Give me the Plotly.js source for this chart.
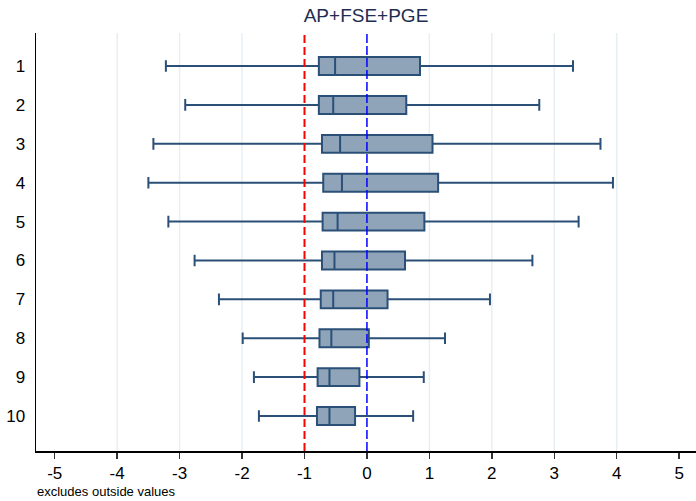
<!DOCTYPE html>
<html>
<head>
<meta charset="utf-8">
<script src="https://cdn.plot.ly/plotly-3.0.1.min.js"></script>
<style>html,body{margin:0;padding:0;background:#fff;}#chart{width:696px;height:501px;}</style>
</head>
<body>
<div id="chart"></div>
<script>
var categories = [1, 2, 3, 4, 5, 6, 7, 8, 9, 10];
var lowerWhisker = [-3.22, -2.91, -3.42, -3.50, -3.18, -2.76, -2.37, -1.99, -1.81, -1.73];
var q1Values     = [-0.77, -0.77, -0.72, -0.70, -0.71, -0.72, -0.74, -0.76, -0.79, -0.80];
var medianValues = [-0.51, -0.54, -0.43, -0.40, -0.47, -0.52, -0.54, -0.57, -0.60, -0.60];
var q3Values     = [0.85, 0.63, 1.05, 1.14, 0.92, 0.61, 0.33, 0.03, -0.12, -0.19];
var upperWhisker = [3.30, 2.76, 3.74, 3.94, 3.39, 2.65, 1.97, 1.25, 0.91, 0.74];
var xTicks = [-5, -4, -3, -2, -1, 0, 1, 2, 3, 4, 5];
var gridVals = [-4, -3, -2, 1, 2, 3, 4];
var redRef = -1;
var blueRef = 0;
var titleText = 'AP+FSE+PGE';
var noteText = 'excludes outside values';

var trace = {
  type: 'box',
  orientation: 'h',
  y: categories,
  q1: q1Values,
  median: medianValues,
  q3: q3Values,
  lowerfence: lowerWhisker,
  upperfence: upperWhisker,
  boxpoints: false,
  width: 0.46,
  whiskerwidth: 0.65,
  fillcolor: '#8fa4b9',
  line: {color: '#2b5077', width: 2},
  hoverinfo: 'skip',
  showlegend: false
};

var shapes = [];
gridVals.forEach(function (v) {
  shapes.push({type: 'line', xref: 'x', yref: 'paper', x0: v, x1: v, y0: 0, y1: 1,
    line: {color: '#e8eff3', width: 1.5}, layer: 'below'});
});
shapes.push({type: 'line', xref: 'x', yref: 'paper', x0: redRef, x1: redRef, y0: 0, y1: 1,
  line: {color: '#ff0000', width: 2, dash: '8px,4px'}, layer: 'above'});
shapes.push({type: 'line', xref: 'x', yref: 'paper', x0: blueRef, x1: blueRef, y0: 0, y1: 1,
  line: {color: '#0000ff', width: 1.5, dash: '9px,3px'}, layer: 'above'});

var layout = {
  width: 696, height: 501,
  margin: {l: 36, r: 0, t: 33, b: 50},
  paper_bgcolor: '#ffffff', plot_bgcolor: '#ffffff',
  font: {family: 'Liberation Sans, Arial, sans-serif', color: '#000'},
  title: {text: titleText, x: 0.5, xref: 'paper', y: 0.982, yanchor: 'top',
    font: {size: 19, color: '#1e2d50', family: 'Liberation Sans, Arial, sans-serif'}},
  xaxis: {range: [-5.3, 5.27], tickvals: xTicks, ticktext: xTicks.map(String),
    showgrid: false, zeroline: false, showline: true, linecolor: '#000', linewidth: 1.5,
    ticks: 'outside', ticklen: 6, tickcolor: '#333', tickwidth: 1.5,
    tickfont: {size: 17, color: '#000'}, mirror: false},
  yaxis: {range: [10.9, 0.15], tickvals: categories, ticktext: categories.map(String),
    showgrid: false, zeroline: false, showline: true, linecolor: '#000', linewidth: 1.5,
    ticks: '', tickfont: {size: 17, color: '#000'}, ticklabelstandoff: 6},
  shapes: shapes,
  annotations: [{text: noteText, xref: 'paper', yref: 'paper', x: -0.002, y: -0.074,
    xanchor: 'left', yanchor: 'top', showarrow: false, font: {size: 13, color: '#000'}}]
};

Plotly.newPlot('chart', [trace], layout, {displayModeBar: false, staticPlot: true});
</script>
</body>
</html>
